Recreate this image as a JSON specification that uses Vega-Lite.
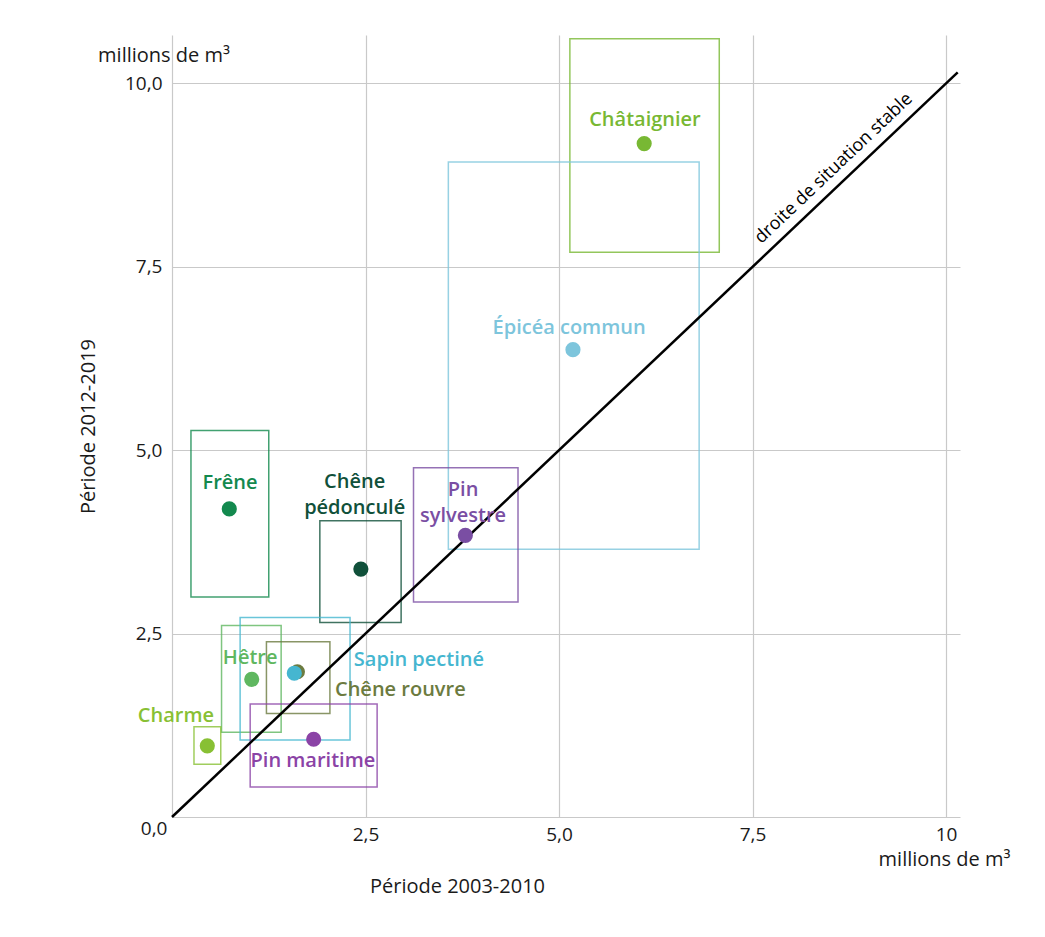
{
  "$schema": "https://vega.github.io/schema/vega-lite/v6.json",
  "width": 788,
  "height": 782,
  "autosize": {"type": "none"},
  "padding": {"left": 172, "top": 35, "right": 85, "bottom": 120},
  "background": "white",
  "config": {
    "view": {"stroke": null},
    "font": "Open Sans",
    "axis": {
      "grid": true,
      "gridColor": "#c9c9c9",
      "gridWidth": 1.2,
      "domain": false,
      "ticks": false,
      "labelFont": "Open Sans",
      "labelFontSize": 19,
      "labelColor": "#1a1a1a",
      "titleFont": "Open Sans",
      "titleFontSize": 20,
      "titleFontWeight": "normal",
      "titleColor": "#1a1a1a"
    }
  },
  "datasets": {
    "species": [
      {"name": "Châtaignier", "label": "Châtaignier", "x": 6.10, "y": 9.18, "x1": 5.14, "x2": 7.07, "y1": 7.70, "y2": 10.61, "lx": 6.11, "ly": 9.50},
      {"name": "Épicéa commun", "label": "Épicéa commun", "x": 5.18, "y": 6.37, "x1": 3.57, "x2": 6.81, "y1": 3.65, "y2": 8.93, "lx": 5.13, "ly": 6.67},
      {"name": "Frêne", "label": "Frêne", "x": 0.74, "y": 4.20, "x1": 0.245, "x2": 1.25, "y1": 3.00, "y2": 5.27, "lx": 0.75, "ly": 4.55},
      {"name": "Chêne pédonculé", "label": ["Chêne", "pédonculé"], "x": 2.44, "y": 3.38, "x1": 1.91, "x2": 2.96, "y1": 2.65, "y2": 4.04, "lx": 2.36, "ly": 4.567},
      {"name": "Pin sylvestre", "label": ["Pin", "sylvestre"], "x": 3.79, "y": 3.84, "x1": 3.12, "x2": 4.47, "y1": 2.93, "y2": 4.76, "lx": 3.76, "ly": 4.458},
      {"name": "Hêtre", "label": "Hêtre", "x": 1.03, "y": 1.877, "x1": 0.64, "x2": 1.41, "y1": 1.155, "y2": 2.61, "lx": 1.01, "ly": 2.17},
      {"name": "Chêne rouvre", "label": "Chêne rouvre", "x": 1.62, "y": 1.98, "x1": 1.22, "x2": 2.04, "y1": 1.41, "y2": 2.39, "lx": 2.95, "ly": 1.73},
      {"name": "Sapin pectiné", "label": "Sapin pectiné", "x": 1.58, "y": 1.96, "x1": 0.88, "x2": 2.30, "y1": 1.05, "y2": 2.72, "lx": 3.19, "ly": 2.14},
      {"name": "Charme", "label": "Charme", "x": 0.456, "y": 0.97, "x1": 0.284, "x2": 0.63, "y1": 0.72, "y2": 1.23, "lx": 0.05, "ly": 1.38},
      {"name": "Pin maritime", "label": "Pin maritime", "x": 1.83, "y": 1.06, "x1": 1.01, "x2": 2.65, "y1": 0.41, "y2": 1.54, "lx": 1.82, "ly": 0.76}
    ],
    "diag": [{"x": 0, "y": 0, "x2": 10.15, "y2": 10.15}],
    "notes": [
      {"text": "droite de situation stable", "kind": "line", "x": 8.55, "y": 8.84},
      {"text": "millions de m³", "kind": "unit", "x": -0.103, "y": 10.37},
      {"text": "millions de m³", "kind": "unit", "x": 9.98, "y": -0.586}
    ]
  },
  "layer": [
    {
      "data": {"name": "species"},
      "mark": {"type": "rect", "filled": false, "strokeWidth": 1.5, "strokeOpacity": 0.8},
      "encoding": {
        "x": {"field": "x1", "type": "quantitative",
          "scale": {"domain": [0, 10.18], "nice": false, "zero": false},
          "axis": {
            "values": [0, 2.5, 5, 7.5, 10],
            "labelExpr": "datum.value == 10 ? '10' : replace(format(datum.value, '.1f'), '.', ',')",
            "labelBaseline": "top",
            "labelPadding": {"condition": {"test": "datum.value == 0", "value": 2}, "value": 8},
            "labelAlign": {"condition": {"test": "datum.value == 0", "value": "right"}, "value": "center"},
            "labelOffset": {"condition": {"test": "datum.value == 0", "value": -5}, "value": 0},
            "title": "Période 2003-2010",
            "titleX": 285,
            "titleY": 69,
            "titleBaseline": "middle",
            "titleAlign": "center"
          }
        },
        "x2": {"field": "x2"},
        "y": {"field": "y1", "type": "quantitative",
          "scale": {"domain": [0, 10.66], "nice": false, "zero": false},
          "axis": {
            "values": [0, 2.5, 5, 7.5, 10],
            "labelExpr": "datum.value == 0 ? '' : replace(format(datum.value, '.1f'), '.', ',')",
            "labelPadding": 10,
            "title": "Période 2012-2019",
            "titleX": -84,
            "titleY": 391,
            "titleAngle": -90,
            "titleBaseline": "middle",
            "titleAlign": "center"
          }
        },
        "y2": {"field": "y2"},
        "color": {"field": "name", "type": "nominal", "legend": null,
          "scale": {
            "domain": ["Châtaignier", "Épicéa commun", "Frêne", "Chêne pédonculé", "Pin sylvestre", "Hêtre", "Chêne rouvre", "Sapin pectiné", "Charme", "Pin maritime"],
            "range": ["#78b833", "#7dc5dc", "#13894e", "#10503a", "#7a4ea3", "#5fb760", "#6c7b40", "#45b6d0", "#88c034", "#8b43a6"]
          }
        }
      }
    },
    {
      "data": {"name": "diag"},
      "mark": {"type": "rule", "color": "black", "strokeWidth": 2.5},
      "encoding": {
        "x": {"field": "x", "type": "quantitative"},
        "y": {"field": "y", "type": "quantitative"},
        "x2": {"field": "x2"},
        "y2": {"field": "y2"}
      }
    },
    {
      "data": {"name": "species"},
      "mark": {"type": "circle", "size": 230, "opacity": 1},
      "encoding": {
        "x": {"field": "x", "type": "quantitative"},
        "y": {"field": "y", "type": "quantitative"},
        "color": {"field": "name", "type": "nominal", "legend": null}
      }
    },
    {
      "data": {"name": "species"},
      "mark": {"type": "text", "fontSize": 20, "fontWeight": 600, "align": "center", "baseline": "middle", "lineHeight": 26},
      "encoding": {
        "x": {"field": "lx", "type": "quantitative"},
        "y": {"field": "ly", "type": "quantitative"},
        "text": {"field": "label"},
        "color": {"field": "name", "type": "nominal", "legend": null}
      }
    },
    {
      "data": {"name": "notes"},
      "transform": [{"filter": "datum.kind == 'line'"}],
      "mark": {"type": "text", "fontSize": 18, "angle": -43.5, "align": "center", "baseline": "middle", "color": "black"},
      "encoding": {
        "x": {"field": "x", "type": "quantitative"},
        "y": {"field": "y", "type": "quantitative"},
        "text": {"field": "text"}
      }
    },
    {
      "data": {"name": "notes"},
      "transform": [{"filter": "datum.kind == 'unit'"}],
      "mark": {"type": "text", "fontSize": 20, "align": "center", "baseline": "middle", "color": "#1a1a1a", "clip": false},
      "encoding": {
        "x": {"field": "x", "type": "quantitative"},
        "y": {"field": "y", "type": "quantitative"},
        "text": {"field": "text"}
      }
    }
  ]
}
